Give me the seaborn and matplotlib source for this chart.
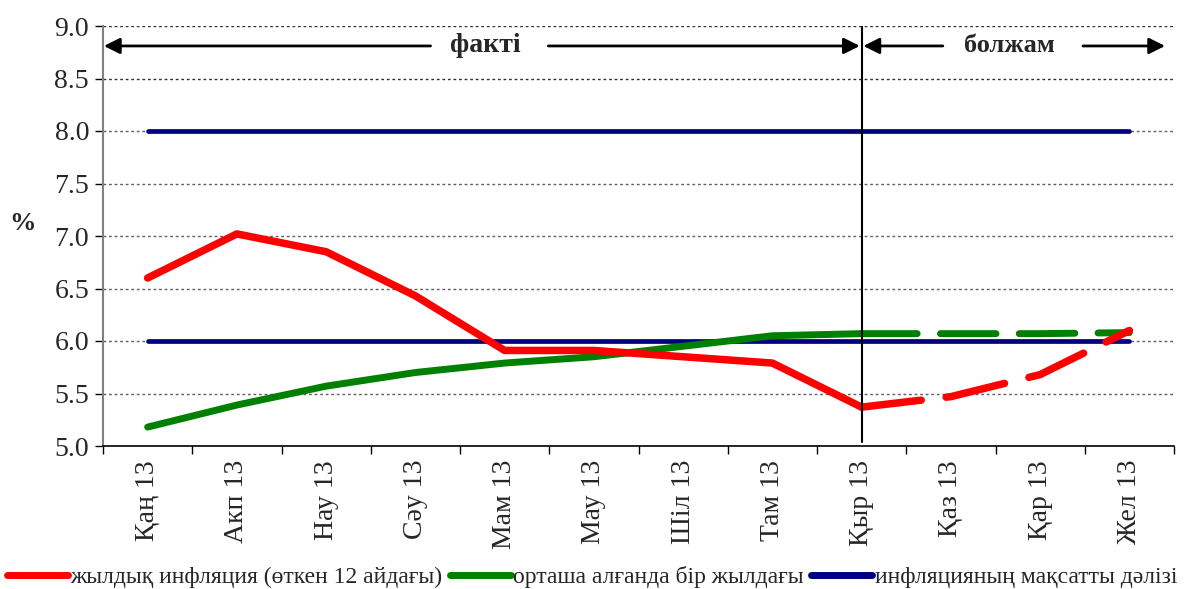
import numpy as np
import pandas as pd
import matplotlib
matplotlib.use("Agg")
import matplotlib.pyplot as plt
import seaborn as sns

months = ['Қаң 13', 'Акп 13', 'Нау 13', 'Сәу 13', 'Мам 13', 'Мау 13',
          'Шіл 13', 'Там 13', 'Қыр 13', 'Қаз 13', 'Қар 13', 'Жел 13']
annual_infl = [6.60, 7.02, 6.85, 6.43, 5.91, 5.91, 5.85, 5.79, 5.37, 5.47, 5.68, 6.10]
avg_infl = [5.18, 5.39, 5.57, 5.70, 5.79, 5.85, 5.95, 6.05, 6.07, 6.07, 6.07, 6.08]
corridor_low = [6.0] * 12
corridor_high = [8.0] * 12
last_fact = 8  # index of 'Қыр 13', forecast starts here

lbl_red = 'жылдық инфляция (өткен 12 айдағы)'
lbl_green = 'орташа алғанда бір жылдағы'
lbl_blue = 'инфляцияның мақсатты дәлізі'

sns.set_theme(style="white")
plt.rcParams['font.family'] = ['Liberation Serif', 'DejaVu Serif']

df = pd.DataFrame({'x': np.arange(len(months)), 'red': annual_infl, 'green': avg_infl,
                   'low': corridor_low, 'high': corridor_high})
fact = df.iloc[:last_fact + 1]
fcst = df.iloc[last_fact:]

fig = plt.figure(figsize=(11.84, 5.89), dpi=100)
ax = fig.add_axes([103 / 1184, 1 - 446 / 589, 1071 / 1184, 420 / 589])

red, green, blue = '#ff0000', '#008000', '#000080'
sns.lineplot(data=df, x='x', y='low', ax=ax, color=blue, lw=3.4,
             solid_capstyle='round', label=lbl_blue)
sns.lineplot(data=df, x='x', y='high', ax=ax, color=blue, lw=3.4,
             solid_capstyle='round', legend=False)
sns.lineplot(data=fact, x='x', y='green', ax=ax, color=green, lw=5.0,
             solid_capstyle='round', label=lbl_green)
sns.lineplot(data=fcst, x='x', y='green', ax=ax, color=green, lw=5.0,
             legend=False)
sns.lineplot(data=fact, x='x', y='red', ax=ax, color=red, lw=5.4,
             solid_capstyle='round', label=lbl_red)
sns.lineplot(data=fcst, x='x', y='red', ax=ax, color=red, lw=5.4, legend=False)

# dashed forecast parts
for ln in ax.lines[3:4] + ax.lines[5:6]:
    ln.set_linestyle((0, (8.0, 3.35)))
    ln.set_dash_capstyle('round')

ax.set_xlim(-0.5, len(months) - 0.5)
ax.set_ylim(5.0, 9.0)
ax.set_yticks(np.arange(5.0, 9.01, 0.5))
ax.set_yticklabels([f'{v:.1f}' for v in np.arange(5.0, 9.01, 0.5)], fontsize=20)
ax.set_xticks(np.arange(len(months)))
ax.set_xticklabels(months, rotation=90, fontsize=20)
ax.set_xticks(np.arange(-0.5, len(months)), minor=True)
ax.tick_params(axis='x', which='major', length=0, pad=10)
ax.tick_params(axis='x', which='minor', length=6, width=1, color='black', bottom=True)
ax.tick_params(axis='y', length=6, width=1, color='black', left=True, pad=4)
ax.set_xlabel('')
ax.set_ylabel('')

for v in np.arange(5.5, 9.01, 0.5):
    ax.axhline(v, color='#606060' if v < 8.4 else '#303030', lw=1,
               ls=(0, (2, 2)), zorder=0)

for s in ['top', 'right']:
    ax.spines[s].set_visible(False)
ax.spines['left'].set_color('#808080')
ax.spines['left'].set_linewidth(1.5)
ax.spines['bottom'].set_color('black')
ax.spines['bottom'].set_linewidth(1.2)

# fact / forecast divider and arrows
ax.plot([last_fact, last_fact], [5.04, 9.0], color='black', lw=1.5, zorder=5)
ya = 8.81
arrow = dict(arrowstyle='-|>', lw=2, color='black', mutation_scale=24,
             shrinkA=0, shrinkB=0)
ax.annotate('', xy=(-0.49, ya), xytext=(3.17, ya), arrowprops=arrow)
ax.annotate('', xy=(7.98, ya), xytext=(4.49, ya), arrowprops=arrow)
ax.annotate('', xy=(8.02, ya), xytext=(8.91, ya), arrowprops=arrow)
ax.annotate('', xy=(11.40, ya), xytext=(10.48, ya), arrowprops=arrow)
ax.text(3.78, ya, 'факті', ha='center', va='center', fontsize=20, fontweight='bold')
ax.text(9.66, ya, 'болжам', ha='center', va='center', fontsize=19, fontweight='bold')

fig.text(22 / 1184, 1 - 224 / 589, '%', ha='center', va='center',
         fontsize=19, fontweight='bold')

h, l = ax.get_legend_handles_labels()
order = [l.index(lbl_red), l.index(lbl_green), l.index(lbl_blue)]
ax.get_legend().remove()
leg = fig.legend([h[i] for i in order], [l[i] for i in order], loc='lower center',
                 bbox_to_anchor=(0.5, -0.035), ncol=3, frameon=False, fontsize=17,
                 handlelength=2.6, handletextpad=0.1, columnspacing=0.3)
for ln in leg.get_lines():
    ln.set_linewidth(5)

fig.savefig('out.png', dpi=100)
